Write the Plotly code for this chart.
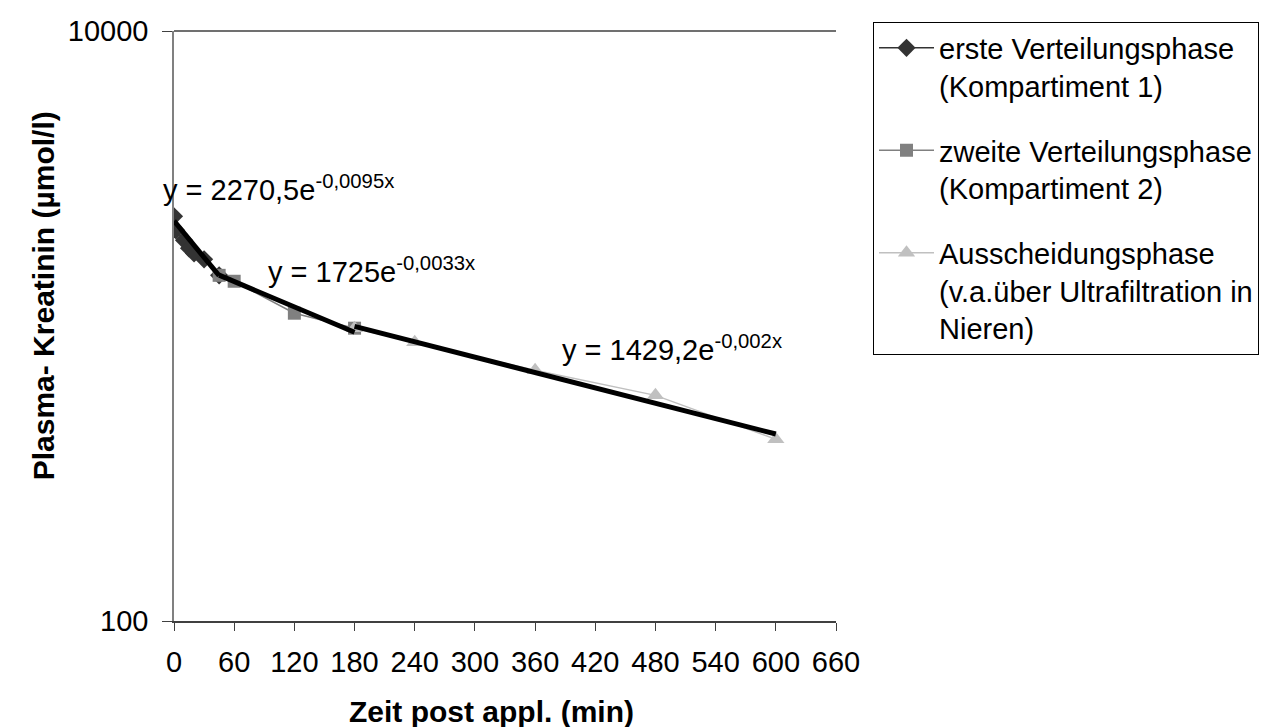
import numpy as np
import plotly.graph_objects as go

# ---- data ----
phase1_x = [0, 2, 10, 15, 20, 30, 45]
phase1_y = [2354, 2110, 1951, 1834, 1763, 1683, 1485]

phase2_x = [45, 60, 120, 180]
phase2_y = [1485, 1418, 1105, 983]

phase3_x = [180, 240, 360, 480, 600]
phase3_y = [983, 881, 708, 582, 413]

series_names = [
    "erste Verteilungsphase<br>(Kompartiment 1)",
    "zweite Verteilungsphase<br>(Kompartiment 2)",
    "Ausscheidungsphase<br>(v.a.über Ultrafiltration in<br>Nieren)",
]

# exponential trendlines y = a * exp(b * x) shown in the chart
trend_a = [2270.5, 1725.0, 1429.2]
trend_b = [-0.0095, -0.0033, -0.002]
trend_labels = ["y = 2270,5e<sup>-0,0095x</sup>",
                "y = 1725e<sup>-0,0033x</sup>",
                "y = 1429,2e<sup>-0,002x</sup>"]

x_ticks = list(range(0, 661, 60))
y_ticks = [100, 10000]

FONT = "Liberation Sans, Arial, sans-serif"
FS = 29

colors = ["#333333", "#808080", "#c0c0c0"]
symbols = ["diamond", "square", "triangle-up"]
msizes = [14, 13, 15]

fig = go.Figure()
all_x = [phase1_x, phase2_x, phase3_x]
all_y = [phase1_y, phase2_y, phase3_y]
for i in range(3):
    fig.add_trace(go.Scatter(
        x=all_x[i], y=all_y[i], mode="lines+markers", name=series_names[i],
        line=dict(color=colors[i], width=1.5),
        marker=dict(symbol=symbols[i], size=msizes[i], color=colors[i]),
        legendgroup=f"g{i}",
    ))

# trendlines (black, thick), spanning each series' x range
for i in range(3):
    xs = np.array([min(all_x[i]), max(all_x[i])], dtype=float)
    ys = trend_a[i] * np.exp(trend_b[i] * xs)
    fig.add_trace(go.Scatter(
        x=xs, y=ys, mode="lines", line=dict(color="black", width=5),
        showlegend=False, hoverinfo="skip",
    ))

# pixel helpers for layout placement (plot area: x 166..828, y 22.5..613)
L, R, T, B = 166, 828, 22.5, 613
W, H = 1271, 727
def px(x):
    return (x - L) / (R - L)
def py(y):
    return (B - y) / (B - T)

ann_pos = [(153, 180), (258, 262), (552, 340)]
annotations = []
for (ax, ay), txt in zip(ann_pos, trend_labels):
    annotations.append(dict(
        x=px(ax), y=py(ay), xref="paper", yref="paper", text=txt,
        showarrow=False, xanchor="left", yanchor="middle",
        font=dict(family=FONT, size=FS, color="black"),
    ))
annotations.append(dict(
    x=px(483), y=py(704), xref="paper", yref="paper",
    text="<b>Zeit post appl. (min)</b>", showarrow=False,
    xanchor="center", yanchor="middle",
    font=dict(family=FONT, size=30, color="black"),
))
annotations.append(dict(
    x=px(35), y=py(288), xref="paper", yref="paper",
    text="<b>Plasma- Kreatinin (µmol/l)</b>", showarrow=False,
    textangle=-90, xanchor="center", yanchor="middle",
    font=dict(family=FONT, size=30, color="black"),
))

fig.update_layout(
    width=W, height=H,
    margin=dict(l=L, r=W - R, t=T, b=H - B, pad=0, autoexpand=False),
    paper_bgcolor="white", plot_bgcolor="white",
    font=dict(family=FONT, size=FS, color="black"),
    showlegend=True,
    legend=dict(
        x=px(865), y=py(13), xanchor="left", yanchor="top",
        xref="paper", yref="paper",
        bgcolor="white", bordercolor="black", borderwidth=1,
        font=dict(family=FONT, size=FS, color="black"),
        itemwidth=55, valign="top", tracegroupgap=24,
    ),
    annotations=annotations,
    shapes=[dict(type="line", xref="paper", yref="paper",
                 x0=0, x1=1, y0=1, y1=1,
                 line=dict(color="#404040", width=1.5))],
    xaxis=dict(
        range=[0, 660], tickvals=x_ticks, ticktext=[str(v) for v in x_ticks],
        ticks="outside", ticklen=8, tickcolor="#404040",
        ticklabelstandoff=6,
        showline=True, linecolor="#404040", linewidth=1.5,
        showgrid=False, zeroline=False,
        tickfont=dict(family=FONT, size=FS, color="black"),
    ),
    yaxis=dict(
        type="log", range=[2, 4], tickvals=y_ticks,
        ticktext=[str(v) for v in y_ticks],
        ticks="outside", ticklen=10, tickcolor="#404040",
        ticklabelstandoff=8,
        showline=True, linecolor="#808080", linewidth=1.5,
        showgrid=False, zeroline=False,
        tickfont=dict(family=FONT, size=FS, color="black"),
    ),
)

fig.write_html("out.html")
